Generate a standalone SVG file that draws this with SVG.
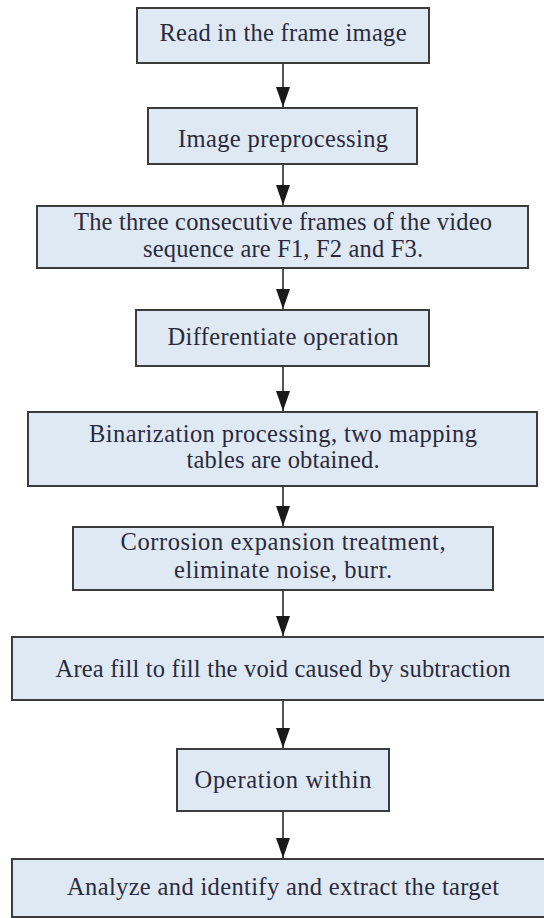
<svg xmlns="http://www.w3.org/2000/svg" width="544" height="918" viewBox="0 0 544 918">
<style>
.box{fill:#dee9f4;stroke:#3c3c3c;stroke-width:2}
.t{font-family:"Liberation Serif","Times New Roman",serif;font-size:24.5px;fill:#2b2a3c;text-anchor:middle}
.ln{stroke:#2a2a2a;stroke-width:1.6;fill:none}
</style>
<defs>
<marker id="ah" markerWidth="20" markerHeight="14" refX="20" refY="7" orient="auto" markerUnits="userSpaceOnUse" viewBox="0 0 20 14">
<path d="M0,0 L20,7 L0,14 Z" fill="#1a1a1a"/>
</marker>
</defs>
<rect width="544" height="918" fill="#ffffff"/>
<g id="connectors">
<line class="ln" x1="283" y1="63" x2="283" y2="107" marker-end="url(#ah)"/>
<line class="ln" x1="283" y1="164" x2="283" y2="205" marker-end="url(#ah)"/>
<line class="ln" x1="283" y1="268" x2="283" y2="309" marker-end="url(#ah)"/>
<line class="ln" x1="283" y1="366" x2="283" y2="411" marker-end="url(#ah)"/>
<line class="ln" x1="283" y1="486" x2="283" y2="526" marker-end="url(#ah)"/>
<line class="ln" x1="283" y1="590" x2="283" y2="636" marker-end="url(#ah)"/>
<line class="ln" x1="283" y1="700" x2="283" y2="748" marker-end="url(#ah)"/>
<line class="ln" x1="283" y1="811" x2="283" y2="858" marker-end="url(#ah)"/>
</g>
<g id="n1">
<rect class="box" x="137" y="8" width="292" height="55"/>
<text class="t" x="283" y="41" textLength="247">Read in the frame image</text>
</g>
<g id="n2">
<rect class="box" x="148" y="108" width="269" height="56"/>
<text class="t" x="283" y="147" textLength="210">Image preprocessing</text>
</g>
<g id="n3">
<rect class="box" x="37" y="206" width="491" height="62"/>
<text class="t" x="283" y="230" textLength="418">The three consecutive frames of the video</text>
<text class="t" x="283" y="257" textLength="280">sequence are F1, F2 and F3.</text>
</g>
<g id="n4">
<rect class="box" x="136" y="310" width="293" height="56"/>
<text class="t" x="283" y="345" textLength="231">Differentiate operation</text>
</g>
<g id="n5">
<rect class="box" x="28" y="412" width="509" height="74"/>
<text class="t" x="283" y="442" textLength="388">Binarization processing, two mapping</text>
<text class="t" x="283" y="468" textLength="193">tables are obtained.</text>
</g>
<g id="n6">
<rect class="box" x="73" y="527" width="420" height="63"/>
<text class="t" x="283" y="550" textLength="325">Corrosion expansion treatment,</text>
<text class="t" x="283" y="578" textLength="218">eliminate noise, burr.</text>
</g>
<g id="n7">
<rect class="box" x="12" y="637" width="542" height="63"/>
<text class="t" x="283" y="677" textLength="455">Area fill to fill the void caused by subtraction</text>
</g>
<g id="n8">
<rect class="box" x="177" y="749" width="212" height="62"/>
<text class="t" x="283" y="788" textLength="177">Operation within</text>
</g>
<g id="n9">
<rect class="box" x="12" y="859" width="542" height="58"/>
<text class="t" x="283" y="895" textLength="432">Analyze and identify and extract the target</text>
</g>
</svg>
